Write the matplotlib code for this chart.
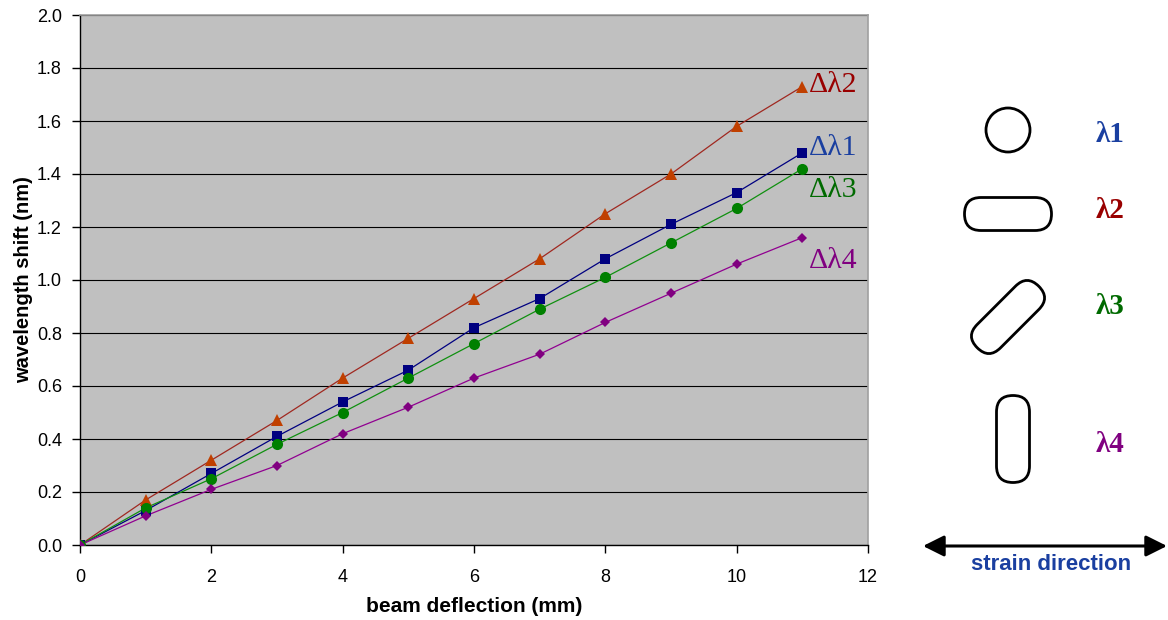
import matplotlib
matplotlib.use("Agg")
import matplotlib.pyplot as plt
from matplotlib.patches import Circle, FancyBboxPatch
from matplotlib.transforms import Affine2D
from matplotlib.ticker import FormatStrFormatter

# ---- data ----
deflection = [0, 1, 2, 3, 4, 5, 6, 7, 8, 9, 10, 11]
dl1 = [0.0, 0.13, 0.27, 0.41, 0.54, 0.66, 0.82, 0.93, 1.08, 1.21, 1.33, 1.48]
dl2 = [0.0, 0.17, 0.32, 0.47, 0.63, 0.78, 0.93, 1.08, 1.25, 1.40, 1.58, 1.73]
dl3 = [0.0, 0.14, 0.25, 0.38, 0.50, 0.63, 0.76, 0.89, 1.01, 1.14, 1.27, 1.42]
dl4 = [0.0, 0.11, 0.21, 0.30, 0.42, 0.52, 0.63, 0.72, 0.84, 0.95, 1.06, 1.16]
series_names = ["Δλ1", "Δλ2", "Δλ3", "Δλ4"]
shape_names = ["λ1", "λ2", "λ3", "λ4"]
xticks = [0, 2, 4, 6, 8, 10, 12]
yticks = [0.0, 0.2, 0.4, 0.6, 0.8, 1.0, 1.2, 1.4, 1.6, 1.8, 2.0]

plt.rcParams['font.family'] = ['Liberation Sans', 'DejaVu Sans']

fig = plt.figure(figsize=(11.68, 6.2), dpi=100)
ax = fig.add_axes([80/1168, 1-545/620, 788/1168, 530/620])
ax.set_facecolor('#C0C0C0')

styles = [
    (dl1, 's', '#000080', '#000080', 7.5, '#1A3FA0'),
    (dl2, '^', '#C04000', '#A02820', 8, '#990000'),
    (dl3, 'o', '#008000', '#109010', 8, '#006A00'),
    (dl4, 'D', '#800080', '#900090', 5.5, '#800080'),
]
for vals, mk, mcol, lcol, ms, tcol in styles:
    ax.plot(deflection, vals, color=lcol, lw=0.9, zorder=3)
    ax.plot(deflection, vals, ls='none', marker=mk, color=mcol, ms=ms,
            markeredgewidth=0, zorder=4)

# end labels (baseline positions in data units)
label_y = [1.472, 1.709, 1.313, 1.045]
for name, ly, st in zip(series_names, label_y, styles):
    ax.text(11.1, ly, name, color=st[5], fontsize=21.5, va='baseline', ha='left',
            family=['Liberation Serif', 'DejaVu Serif'], zorder=5)

ax.set_xlim(0, 12)
ax.set_ylim(0, 2.0)
ax.set_xticks(xticks)
ax.set_yticks(yticks)
ax.yaxis.set_major_formatter(FormatStrFormatter('%.1f'))
ax.grid(axis='y', color='black', lw=0.8)
ax.set_axisbelow(True)
ax.tick_params(direction='out', length=6, width=1, labelsize=13, color='black')
ax.tick_params(axis='x', pad=11.5)
ax.tick_params(axis='y', pad=7)
for s in ['top', 'right']:
    ax.spines[s].set_color('#A0A0A0')
    ax.spines[s].set_linewidth(1.2)
for s in ['left', 'bottom']:
    ax.spines[s].set_color('black')
    ax.spines[s].set_linewidth(1.0)
ax.set_xlabel('beam deflection (mm)', fontsize=15, fontweight='bold')
ax.set_ylabel('wavelength shift (nm)', fontsize=14.5, fontweight='bold')
ax.xaxis.set_label_coords(0.5, -0.099)
ax.yaxis.set_label_coords(-0.06, 0.5)

# ---- overlay for shapes (pixel coordinates) ----
ov = fig.add_axes([0, 0, 1, 1], zorder=10)
ov.set_xlim(0, 1168)
ov.set_ylim(620, 0)
ov.axis('off')
ov.patch.set_alpha(0)

ov.add_patch(Circle((1008, 130), 22, fill=False, ec='black', lw=2))
# horizontal stadium
ov.add_patch(FancyBboxPatch((1008-43.5, 214-16.5), 87, 33,
             boxstyle="round,pad=0,rounding_size=16.5", fill=False, ec='black', lw=2))
# diagonal stadium
diag = FancyBboxPatch((1008-43.5, 317-16.5), 87, 33,
                      boxstyle="round,pad=0,rounding_size=16.5", fill=False, ec='black', lw=2)
diag.set_transform(Affine2D().rotate_deg_around(1008, 317, -45) + ov.transData)
ov.add_patch(diag)
# vertical stadium
ov.add_patch(FancyBboxPatch((1013-16.5, 439-43.5), 33, 87,
             boxstyle="round,pad=0,rounding_size=16.5", fill=False, ec='black', lw=2))

shape_y = [135, 211, 307, 445]
shape_cols = ['#1A3FA0', '#990000', '#006A00', '#800080']
for name, yy, c in zip(shape_names, shape_y, shape_cols):
    ov.text(1096, yy, name, color=c, fontsize=21, fontweight='bold', va='center', ha='left',
            family=['Liberation Serif', 'DejaVu Serif'])

ov.annotate('', xy=(1167, 546), xytext=(923, 546),
            arrowprops=dict(arrowstyle='<|-|>,head_length=0.8,head_width=0.4', color='black',
                            lw=2.2, mutation_scale=16, shrinkA=0, shrinkB=0))
ov.text(1051, 565, 'strain direction', color='#1A3FA0', fontsize=16, fontweight='bold',
        ha='center', va='center')

fig.savefig('out.png', dpi=100)
